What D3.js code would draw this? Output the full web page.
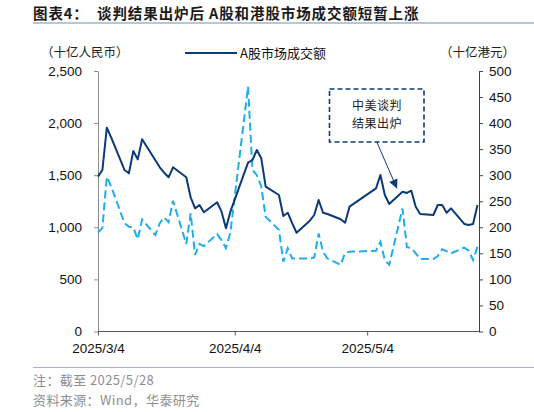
<!DOCTYPE html>
<html lang="zh">
<head>
<meta charset="UTF-8">
<title>图表4</title>
<script src="https://cdn.jsdelivr.net/npm/d3@7/dist/d3.min.js"></script>
<style>
  body { margin: 0; background: #fff; }
  svg { display: block; }
  .cjk { font-family: "Noto Sans CJK SC", sans-serif; }
  .num { font-family: "Liberation Sans", Arial, sans-serif; }
</style>
</head>
<body>
<div id="chart"></div>
<script>
// A-share trading days, 2025/3/4 - 2025/5/29
var dates = [
  "2025-03-04","2025-03-05","2025-03-06","2025-03-07",
  "2025-03-10","2025-03-11","2025-03-12","2025-03-13","2025-03-14",
  "2025-03-17","2025-03-18","2025-03-19","2025-03-20","2025-03-21",
  "2025-03-24","2025-03-25","2025-03-26","2025-03-27","2025-03-28",
  "2025-03-31","2025-04-01","2025-04-02","2025-04-03",
  "2025-04-07","2025-04-08","2025-04-09","2025-04-10","2025-04-11",
  "2025-04-14","2025-04-15","2025-04-16","2025-04-17","2025-04-18",
  "2025-04-21","2025-04-22","2025-04-23","2025-04-24","2025-04-25",
  "2025-04-28","2025-04-29","2025-04-30",
  "2025-05-06","2025-05-07","2025-05-08","2025-05-09",
  "2025-05-12","2025-05-13","2025-05-14","2025-05-15","2025-05-16",
  "2025-05-19","2025-05-20","2025-05-21","2025-05-22","2025-05-23",
  "2025-05-26","2025-05-27","2025-05-28","2025-05-29"
];

// A股市场成交额 (十亿人民币)
var aShare = [
  1486, 1550, 1956, 1860,
  1550, 1518, 1732, 1652, 1845,
  1643, 1576, 1524, 1480, 1576,
  1480, 1288, 1182, 1214, 1144,
  1240, 1150, 990, 1150,
  1620, 1646, 1742, 1662, 1390,
  1310, 1108, 1140, 1040, 948,
  1063, 1118, 1262, 1140, 1128,
  1077, 1044, 1198,
  1374, 1502, 1310, 1224,
  1342, 1330, 1351, 1198, 1128,
  1118, 1214, 1214, 1140, 1182,
  1032, 1022, 1032, 1214
];

// 港股市场成交额 (十亿港元)
var hkShare = [
  190, 199, 297, 278,
  208, 201, 200, 177, 215,
  185, 208, 219, 210, 251,
  168, 227, 147, 168, 164,
  187, 175, 160, 190,
  470, 310, 300, 278, 220,
  195, 134, 160, 140, 140,
  140, 142, 188, 153, 140,
  128, 151, 153,
  155, 172, 137, 128,
  236, 162, 160, 150, 139,
  139, 145, 158, 154, 150,
  161, 155, 137, 163
];

var leftTicks = [0, 500, 1000, 1500, 2000, 2500];
var rightTicks = [0, 50, 100, 150, 200, 250, 300, 350, 400, 450, 500];
var xTickDates = ["2025-03-04", "2025-04-04", "2025-05-04"];

var titleText = "图表4：  谈判结果出炉后 A股和港股市场成交额短暂上涨";
var legendText = "A股市场成交额";
var leftUnit = "（十亿人民币）";
var rightUnit = "（十亿港元）";
var noteText = ["中美谈判", "结果出炉"];
var footNotes = ["注：截至 2025/5/28", "资料来源：Wind，华泰研究"];

var W = 534, H = 412;
var plot = { left: 98, right: 479, top: 71, bottom: 331.5 };
var navy = "#0b3a78";
var cyan = "#1eaeea";

var parse = d3.timeParse("%Y-%m-%d");
var fmtX = d3.timeFormat("%Y/%-m/%-d");

var svg = d3.select("#chart").append("svg")
    .attr("width", W)
    .attr("height", H);

// title + rules
svg.append("text")
    .attr("class", "cjk")
    .attr("x", 33).attr("y", 19)
    .attr("font-size", 14.5).attr("font-weight", "bold")
    .attr("letter-spacing", 0.9)
    .attr("fill", "#1a1a1a")
    .attr("xml:space", "preserve")
    .text(titleText);

svg.append("line")
    .attr("x1", 33).attr("x2", W).attr("y1", 23).attr("y2", 23)
    .attr("stroke", "#6f8fb5").attr("stroke-width", 1);

svg.append("line")
    .attr("x1", 33).attr("x2", W).attr("y1", 367.5).attr("y2", 367.5)
    .attr("stroke", "#9fb6d3").attr("stroke-width", 1);

// scales
var x = d3.scaleTime()
    .domain([parse(dates[0]), parse(dates[dates.length - 1])])
    .range([plot.left, 477.5]);

var yL = d3.scaleLinear().domain([0, 2500]).range([plot.bottom, plot.top]);
var yR = d3.scaleLinear().domain([0, 500]).range([plot.bottom, plot.top]);

// axes
var gL = svg.append("g")
    .attr("class", "num")
    .attr("transform", "translate(" + plot.left + ",0)")
    .call(d3.axisLeft(yL).tickValues(leftTicks).tickFormat(d3.format(","))
      .tickSize(4).tickPadding(12).tickSizeOuter(0));
gL.select(".domain").attr("stroke", "#8c8c8c");
gL.selectAll(".tick line").attr("stroke", "#8c8c8c");

var gR = svg.append("g")
    .attr("class", "num")
    .attr("transform", "translate(" + plot.right + ",0)")
    .call(d3.axisRight(yR).tickValues(rightTicks)
      .tickSize(4).tickPadding(6).tickSizeOuter(0));
gR.select(".domain").attr("stroke", "#404040");
gR.selectAll(".tick line").attr("stroke", "#404040");

var gX = svg.append("g")
    .attr("class", "num")
    .attr("transform", "translate(0," + plot.bottom + ")")
    .call(d3.axisBottom(x).tickValues(xTickDates.map(parse)).tickFormat(fmtX)
      .tickSize(4).tickPadding(8).tickSizeOuter(0));
gX.select(".domain").attr("d", "M" + plot.left + ",0H" + plot.right).attr("stroke", "#595959");
gX.selectAll(".tick line").attr("stroke", "#595959");

svg.selectAll(".tick text")
    .attr("font-size", 13.5)
    .attr("fill", "#111");

// lines
var series = dates.map(function(d, i) {
  return { date: parse(d), a: aShare[i], hk: hkShare[i] };
});

var lineA = d3.line().x(function(d) { return x(d.date); }).y(function(d) { return yL(d.a); });
var lineHK = d3.line().x(function(d) { return x(d.date); }).y(function(d) { return yR(d.hk); });

svg.append("path")
    .datum(series)
    .attr("d", lineHK)
    .attr("fill", "none")
    .attr("stroke", cyan)
    .attr("stroke-width", 2)
    .attr("stroke-dasharray", "8,4");

svg.append("path")
    .datum(series)
    .attr("d", lineA)
    .attr("fill", "none")
    .attr("stroke", navy)
    .attr("stroke-width", 2)
    .attr("stroke-linejoin", "round");

// legend + unit labels
svg.append("line")
    .attr("x1", 185).attr("x2", 237).attr("y1", 53).attr("y2", 53)
    .attr("stroke", navy).attr("stroke-width", 2.2);
svg.append("text")
    .attr("class", "cjk")
    .attr("x", 240).attr("y", 53).attr("dy", "0.35em")
    .attr("font-size", 13).attr("fill", "#111")
    .text(legendText);

svg.append("text")
    .attr("class", "cjk")
    .attr("x", 41).attr("y", 53).attr("dy", "0.35em")
    .attr("font-size", 12.5).attr("fill", "#222")
    .text(leftUnit);

svg.append("text")
    .attr("class", "cjk")
    .attr("x", 515).attr("y", 53).attr("dy", "0.35em")
    .attr("text-anchor", "end")
    .attr("font-size", 12.5).attr("fill", "#222")
    .text(rightUnit);

// annotation box with arrow
svg.append("rect")
    .attr("x", 329.5).attr("y", 89)
    .attr("width", 94.5).attr("height", 53)
    .attr("fill", "#fff")
    .attr("stroke", navy).attr("stroke-width", 1.6)
    .attr("stroke-dasharray", "5,3");

svg.selectAll(".note")
    .data(noteText)
    .enter().append("text")
    .attr("class", "note cjk")
    .attr("x", 377)
    .attr("y", function(d, i) { return 106 + i * 18; })
    .attr("dy", "0.35em")
    .attr("text-anchor", "middle")
    .attr("font-size", 12).attr("fill", "#222")
    .attr("letter-spacing", 0.5)
    .text(function(d) { return d; });

svg.append("defs").append("marker")
    .attr("id", "arrow")
    .attr("viewBox", "0 0 10 10")
    .attr("refX", 10).attr("refY", 5)
    .attr("markerWidth", 10).attr("markerHeight", 9)
    .attr("markerUnits", "userSpaceOnUse")
    .attr("orient", "auto")
  .append("path")
    .attr("d", "M0,0L10,5L0,10Z")
    .attr("fill", navy);

svg.append("line")
    .attr("x1", 377).attr("y1", 142.5)
    .attr("x2", 397).attr("y2", 188.5)
    .attr("stroke", navy).attr("stroke-width", 1)
    .attr("marker-end", "url(#arrow)");

// foot notes
svg.selectAll(".foot")
    .data(footNotes)
    .enter().append("text")
    .attr("class", "foot cjk")
    .attr("x", 33)
    .attr("y", function(d, i) { return 380 + i * 20; })
    .attr("dy", "0.35em")
    .attr("font-size", 13).attr("fill", "#8f8f8f")
    .attr("letter-spacing", 0.4)
    .text(function(d) { return d; });
</script>
</body>
</html>
